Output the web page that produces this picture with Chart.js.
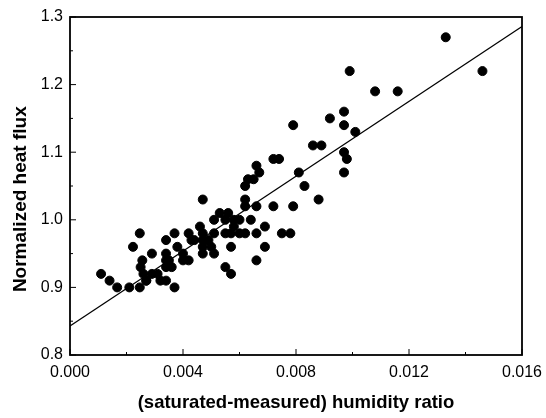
<!DOCTYPE html>
<html>
<head>
<meta charset="utf-8">
<script src="https://cdn.jsdelivr.net/npm/chart.js@4"></script>
<style>
  html, body { margin: 0; padding: 0; background: #fff; }
  #wrap { width: 546px; height: 418px; }
</style>
</head>
<body>
<div id="wrap"><canvas id="chart" width="546" height="418"></canvas></div>
<script>
// Measured points (humidity ratio difference, normalized heat flux)
const humidity = [
  0.0011, 0.0014, 0.00167, 0.0021, 0.00223, 0.00247, 0.00247, 0.0025, 0.00256, 0.0026,
  0.0027, 0.0027, 0.0029, 0.0029, 0.0031, 0.0032, 0.0034, 0.0034, 0.0034, 0.0034,
  0.0034, 0.0035, 0.0036, 0.0037, 0.0037, 0.0038, 0.0040, 0.0040, 0.0042, 0.0042,
  0.0043, 0.0044, 0.0046, 0.0047, 0.0047, 0.0047, 0.0047, 0.0047, 0.0049, 0.0050,
  0.0051, 0.0051, 0.0051, 0.0053, 0.0055, 0.0055, 0.0055, 0.0056, 0.0057, 0.0057,
  0.0057, 0.0058, 0.0058, 0.0060, 0.0060, 0.0062, 0.0062, 0.0062, 0.0062, 0.0063,
  0.0064, 0.0065, 0.0066, 0.0066, 0.0066, 0.0066, 0.0067, 0.0069, 0.0069, 0.0072,
  0.0072, 0.0074, 0.0075, 0.0078, 0.0079, 0.0079, 0.0081, 0.0083, 0.0086, 0.0088,
  0.0089, 0.0092, 0.0097, 0.0097, 0.0097, 0.0097, 0.0098, 0.0099, 0.0101, 0.0108,
  0.0116, 0.0133, 0.0146
];
const heatFlux = [
  0.92, 0.91, 0.90, 0.90, 0.96, 0.98, 0.90, 0.93, 0.94, 0.92,
  0.91, 0.91, 0.95, 0.92, 0.92, 0.91, 0.97, 0.95, 0.94, 0.93,
  0.91, 0.94, 0.93, 0.90, 0.98, 0.96, 0.94, 0.95, 0.94, 0.98,
  0.97, 0.97, 0.99, 0.98, 0.96, 0.95, 1.03, 0.97, 0.97, 0.96,
  0.95, 1.00, 0.98, 1.01, 1.00, 0.98, 0.93, 1.01, 0.92, 0.96,
  0.98, 1.00, 0.99, 1.00, 0.98, 0.98, 1.03, 1.05, 1.02, 1.06,
  1.00, 1.06, 1.08, 1.02, 0.98, 0.94, 1.07, 0.99, 0.96, 1.02,
  1.09, 1.09, 0.98, 0.98, 1.02, 1.14, 1.07, 1.05, 1.11, 1.03,
  1.11, 1.15, 1.14, 1.07, 1.10, 1.16, 1.09, 1.22, 1.13, 1.19,
  1.19, 1.27, 1.22
];

// Linear fit end points
const fitX = [0.0, 0.016];
const fitY = [0.843, 1.286];

// Axis ticks
const xTicks = [0.000, 0.004, 0.008, 0.012, 0.016];
const yTicks = [0.8, 0.9, 1.0, 1.1, 1.2, 1.3];

const FONT = "'Liberation Sans', Arial, sans-serif";

// draw frame and inward tick marks
const frameTicks = {
  id: 'frameTicks',
  afterDraw(chart) {
    const { ctx, chartArea: a, scales } = chart;
    const xs = scales.x, ys = scales.y;
    ctx.save();
    ctx.strokeStyle = '#000';
    ctx.lineWidth = 1.8;
    ctx.strokeRect(a.left, a.top, a.right - a.left, a.bottom - a.top);
    ctx.lineWidth = 1;
    ctx.beginPath();
    for (let i = 0; i < xTicks.length; i++) {
      const px = xs.getPixelForValue(xTicks[i]);
      ctx.moveTo(px, a.bottom); ctx.lineTo(px, a.bottom - 6);
      if (i < xTicks.length - 1) {
        const mx = xs.getPixelForValue((xTicks[i] + xTicks[i + 1]) / 2);
        ctx.moveTo(mx, a.bottom); ctx.lineTo(mx, a.bottom - 3);
      }
    }
    for (let i = 0; i < yTicks.length; i++) {
      const py = ys.getPixelForValue(yTicks[i]);
      ctx.moveTo(a.left, py); ctx.lineTo(a.left + 6, py);
      if (i < yTicks.length - 1) {
        const my = ys.getPixelForValue((yTicks[i] + yTicks[i + 1]) / 2);
        ctx.moveTo(a.left, my); ctx.lineTo(a.left + 3, my);
      }
    }
    ctx.stroke();
    ctx.restore();
  }
};

new Chart(document.getElementById('chart'), {
  type: 'scatter',
  data: {
    datasets: [
      {
        label: 'data',
        data: humidity.map((x, i) => ({ x, y: heatFlux[i] })),
        backgroundColor: '#000',
        borderColor: '#000',
        pointRadius: 4.5,
        pointHoverRadius: 4.5
      },
      {
        label: 'fit',
        type: 'line',
        data: fitX.map((x, i) => ({ x, y: fitY[i] })),
        borderColor: '#000',
        borderWidth: 1.2,
        pointRadius: 0,
        fill: false
      }
    ]
  },
  options: {
    responsive: false,
    animation: false,
    events: [],
    layout: { padding: { top: 17, right: 24, left: 0, bottom: 0 } },
    plugins: { legend: { display: false }, tooltip: { enabled: false } },
    scales: {
      x: {
        type: 'linear',
        min: 0, max: 0.016,
        afterBuildTicks: s => { s.ticks = xTicks.map(v => ({ value: v })); },
        afterFit: s => { s.height = 63; s.paddingLeft = 0; s.paddingRight = 0; },
        grid: { display: false, drawTicks: false },
        border: { display: false },
        ticks: {
          color: '#000', padding: 8,
          font: { family: FONT, size: 16 },
          callback: v => v.toFixed(3)
        },
        title: {
          display: true, text: '(saturated-measured) humidity ratio',
          color: '#000', font: { family: FONT, size: 18.5, weight: 'bold' },
          padding: { top: 4, bottom: 4 }
        }
      },
      y: {
        type: 'linear',
        min: 0.8, max: 1.3,
        afterBuildTicks: s => { s.ticks = yTicks.map(v => ({ value: v })); },
        afterFit: s => { s.width = 70; s.paddingTop = 0; s.paddingBottom = 0; },
        grid: { display: false, drawTicks: false },
        border: { display: false },
        ticks: {
          color: '#000', padding: 7,
          font: { family: FONT, size: 16 },
          callback: v => v.toFixed(1)
        },
        title: {
          display: true, text: 'Normalized heat flux     ',
          color: '#000', font: { family: FONT, size: 19, weight: 'bold' },
          padding: { top: 9, bottom: 4 }
        }
      }
    }
  },
  plugins: [frameTicks]
});
</script>
</body>
</html>
